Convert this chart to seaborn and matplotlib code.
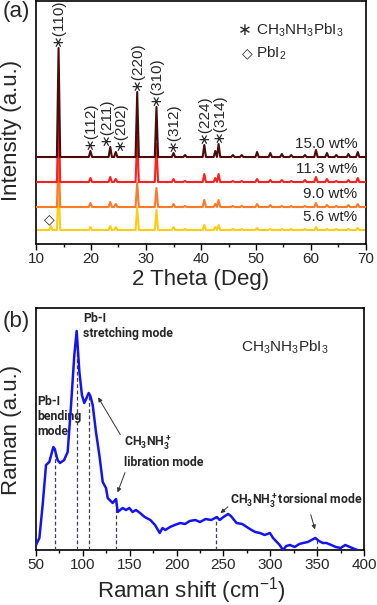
import numpy as np
import matplotlib
matplotlib.use("Agg")
import matplotlib.pyplot as plt
import seaborn as sns
from matplotlib.ticker import MultipleLocator

# ---- XRD data (a): peak positions and heights above each trace baseline
peak_pos = [12.7, 14.1, 19.9, 23.5, 24.5, 28.4, 31.9, 35.0, 37.1, 40.6, 42.6,
            43.2, 45.8, 47.4, 50.2, 52.6, 54.7, 56.4, 58.9, 60.9, 62.9, 64.6,
            66.8, 68.5]
h_150 = [0, 109, 6, 10, 5, 65, 50, 4, 2, 12, 6, 13, 2, 2, 5, 4, 3, 2, 2, 7, 4, 2, 3, 5]
h_113 = [0, 75, 4, 5, 3, 45, 38, 3, 1, 8, 4, 8, 1, 1, 3, 2, 2, 1, 2, 5, 3, 1, 2, 4]
h_90 = [0, 55, 4, 5, 3, 24, 19, 3, 1, 7, 3, 7, 1, 1, 3, 2, 1, 1, 1, 4, 2, 1, 2, 3]
h_56 = [4, 45, 3, 4, 3, 22, 20, 3, 1, 5, 3, 5, 1, 1, 2, 1, 1, 1, 1, 3, 1, 1, 1, 2]
samples = ["15.0 wt%", "11.3 wt%", "9.0 wt%", "5.6 wt%"]
miller = ["(110)", "(112)", "(211)", "(202)", "(220)", "(310)", "(312)", "(224)", "(314)"]
miller_pos = [14.1, 19.9, 23.5, 24.5, 28.4, 31.9, 35.0, 40.6, 43.2]

# ---- Raman data (b)
raman_x = [50, 53.6, 57.1, 60.7, 64.2, 68.5, 70, 73, 75.6, 80, 83.8, 87.4, 90.9,
           93.4, 96.3, 99, 101.5, 104, 106.2, 108, 110.5, 114, 117.6, 121.2,
           124.7, 126.5, 131.8, 135.4, 137.2, 142.5, 146, 149.6, 153, 156.7, 161,
           166, 172, 177, 182, 185, 188, 193, 198, 204, 209, 214, 220, 225, 231,
           237, 243, 246, 250, 255, 258, 264, 270, 275, 280, 284, 289, 294,
           299.6, 303, 307, 310, 313.6, 317, 321, 326, 331, 335, 340, 344, 348,
           352, 356, 360, 365, 370, 375, 380, 385, 390, 393]
raman_y = [5, 12, 45, 85, 88, 103, 101, 90, 87, 90, 98, 145, 195, 219, 178, 155,
           147, 152, 157, 154, 145, 118, 95, 68, 62, 52, 47, 51, 38, 42, 40, 42,
           38, 40, 37, 33, 30, 25, 17, 22, 20, 23, 25, 27, 26, 29, 30, 28, 31, 30,
           33, 30, 33, 36, 34, 27, 26, 23, 20, 18, 17, 15, 17, 12, 8, 5, 0, 4, 5,
           3, 6, 7, 8, 10, 12, 9, 7, 7, 5, 3, 2, 5, 3, 1, 0]
mode_pos = [70, 94, 107, 135, 242, 350]

sns.set_theme(style="ticks")
plt.rcParams["font.family"] = ["Liberation Sans", "DejaVu Sans"]
plt.rcParams["mathtext.default"] = "regular"

fig = plt.figure(figsize=(3.77, 6.05), dpi=100)
W, H = 377, 605
ax1 = fig.add_axes([36 / W, 1 - 244 / H, 330 / W, 243 / H])
ax2 = fig.add_axes([36 / W, 1 - 550 / H, 328 / W, 242 / H])


def pattern(heights, offset, w=0.3):
    xs, ys = [10], [offset]
    for p, h in zip(peak_pos, heights):
        xs += [p - w, p, p + w]
        ys += [offset, offset + h, offset]
    xs.append(70)
    ys.append(offset)
    return xs, ys


colors = ["#4d0a0a", "#ff1f1f", "#ff7a26", "#ffcc14"]
offsets = [87, 62, 37, 14]
all_h = [h_150, h_113, h_90, h_56]
for i in [3, 2, 1, 0]:
    xs, ys = pattern(all_h[i], offsets[i])
    sns.lineplot(x=xs, y=ys, ax=ax1, color=colors[i], linewidth=1.5,
                 estimator=None, sort=False, zorder=5 - i)

lab_fs = 11
star = "\u2217"
sym_font = ["DejaVu Sans"]
for i, s in enumerate(samples):
    ax1.text(68.4, offsets[i] + 13, s, ha="right", va="center", fontsize=lab_fs)

# small horizontal nudges so the crowded labels don't collide
label_dx = {"(211)": -0.85, "(202)": 0.8}
for m, p in zip(miller, miller_pos):
    top = offsets[0] + h_150[peak_pos.index(p)]
    ax1.text(p + label_dx.get(m, 0), top + 1, star + m, rotation=90,
             ha="center", va="bottom", fontsize=lab_fs)

ax1.text(12.4, 25, "\u25c7", ha="center", va="center", fontsize=10,
         family=sym_font)
ax1.text(48.0, 214, star, ha="center", va="center", fontsize=12,
         family=sym_font)
ax1.text(50.0, 214, "CH$_3$NH$_3$PbI$_3$", ha="left", va="center", fontsize=lab_fs)
ax1.text(48.4, 191, "\u25c7", ha="center", va="center", fontsize=10,
         family=sym_font)
ax1.text(50.0, 191, "PbI$_2$", ha="left", va="center", fontsize=lab_fs)

ax1.set_xlim(10, 70)
ax1.set_ylim(0, 243)
ax1.set_yticks([])
ax1.xaxis.set_major_locator(MultipleLocator(10))
ax1.xaxis.set_minor_locator(MultipleLocator(5))
ax1.set_xlabel("2 Theta (Deg)", fontsize=16, labelpad=2)
ax1.set_ylabel("")

# ---- Raman panel
sns.lineplot(x=raman_x, y=raman_y, ax=ax2, color="#1414f0", linewidth=1.8,
             estimator=None, sort=False, zorder=4)
mode_h = np.interp(mode_pos, raman_x, raman_y)
ax2.vlines(mode_pos, 0, mode_h, colors="#3c3c55", linestyles=(0, (3, 2)),
           linewidth=0.9, zorder=3)

bfs = 8.8
bfont = ["Roboto", "DejaVu Sans"]
ax2.text(100.2, 238, "Pb-I\nstretching mode", ha="left", va="top",
         fontsize=bfs, fontweight="bold", family=bfont)
ax2.text(51, 155, "Pb-I\nbending\nmode", ha="left", va="top",
         fontsize=bfs, fontweight="bold", family=bfont)
ax2.text(144, 107, "CH$_3$NH$_3^+$", ha="left", va="center",
         fontsize=bfs, fontweight="bold", family=bfont)
ax2.text(144, 87, "libration mode", ha="left", va="center",
         fontsize=bfs, fontweight="bold", family=bfont)
ax2.text(257, 49, "CH$_3$NH$_3^+$torsional mode", ha="left", va="center",
         fontsize=bfs, fontweight="bold", family=bfont)
ax2.text(268.8, 203, "CH$_3$NH$_3$PbI$_3$", ha="left", va="center", fontsize=lab_fs)

arr = dict(arrowstyle="-|>", color="#333333", lw=0.7, mutation_scale=6)
ax2.annotate("", xy=(114.8, 155), xytext=(141.5, 113), arrowprops=arr)
ax2.annotate("", xy=(136, 55), xytext=(146, 80), arrowprops=arr)
ax2.annotate("", xy=(244.6, 35), xytext=(257, 45), arrowprops=arr)
ax2.annotate("", xy=(348.5, 18), xytext=(342.4, 38), arrowprops=arr)

ax2.set_xlim(50, 400)
ax2.set_ylim(0, 242)
ax2.set_yticks([])
ax2.xaxis.set_major_locator(MultipleLocator(50))
ax2.xaxis.set_minor_locator(MultipleLocator(25))
ax2.set_xlabel("Raman shift (cm$^{-1}$)", fontsize=16, labelpad=2)
ax2.xaxis.label.set_x((191 - 36) / 328)
ax2.set_ylabel("")

for ax in (ax1, ax2):
    for sp in ax.spines.values():
        sp.set_visible(True)
        sp.set_linewidth(1.2)
        sp.set_color("black")
    ax.tick_params(axis="x", which="major", direction="out", length=4, width=1,
                   labelsize=11, pad=2, color="black")
    ax.tick_params(axis="x", which="minor", direction="out", length=2, width=1,
                   color="black")

fig.text(12 / W, 1 - 130 / H, "Intensity (a.u.)", rotation=90, ha="center",
         va="center", fontsize=16)
fig.text(12 / W, 1 - 430 / H, "Raman (a.u.)", rotation=90, ha="center",
         va="center", fontsize=16)
fig.text(16 / W, 1 - 12 / H, "(a)", ha="center", va="center", fontsize=16)
fig.text(16 / W, 1 - 322 / H, "(b)", ha="center", va="center", fontsize=16)

fig.savefig("out.png", dpi=100)
